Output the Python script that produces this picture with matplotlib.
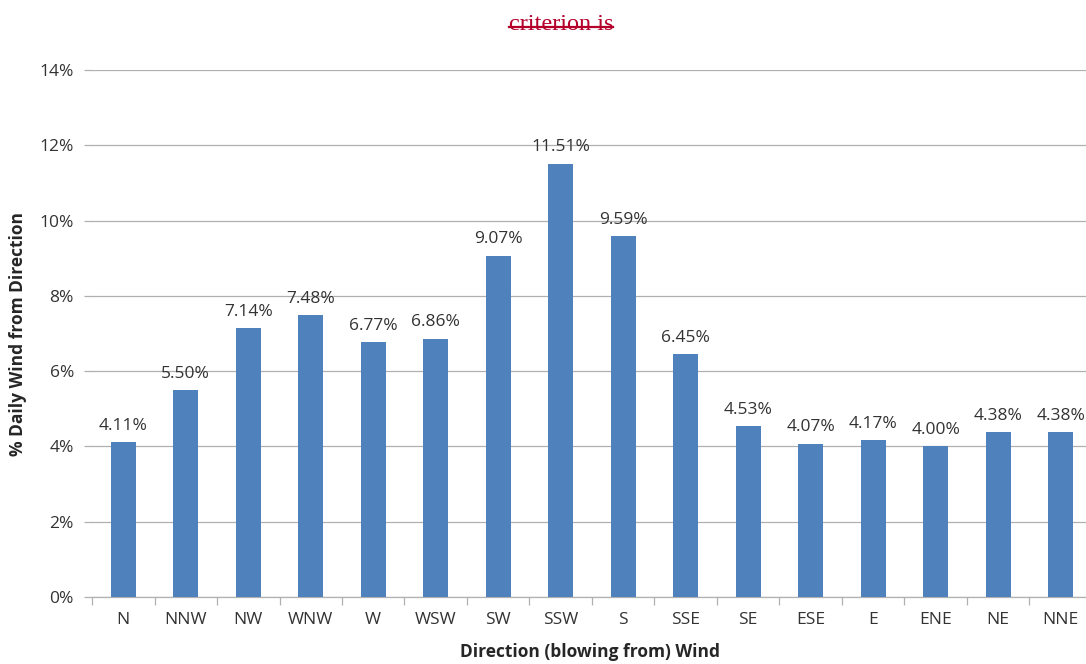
import matplotlib
matplotlib.use("Agg")
import matplotlib.pyplot as plt
from matplotlib.ticker import FuncFormatter
from matplotlib.lines import Line2D

directions = ["N", "NNW", "NW", "WNW", "W", "WSW", "SW", "SSW", "S", "SSE",
              "SE", "ESE", "E", "ENE", "NE", "NNE"]
percent = [4.11, 5.50, 7.14, 7.48, 6.77, 6.86, 9.07, 11.51, 9.59, 6.45,
           4.53, 4.07, 4.17, 4.00, 4.38, 4.38]
y_ticks = [0, 2, 4, 6, 8, 10, 12, 14]

W, H = 1086, 664
fig = plt.figure(figsize=(W / 100, H / 100), dpi=100)
plt.rcParams['font.family'] = ['Open Sans', 'DejaVu Sans']

left, right, bottom, top = 92, 1092, 597, 70
ax = fig.add_axes([left / W, (H - bottom) / H, (right - left) / W, (bottom - top) / H])

x = list(range(len(directions)))
ax.bar(x, percent, width=0.4, color="#4f81bd", zorder=3)
ax.set_xlim(-0.5, len(directions) - 0.5)
ax.set_ylim(0, 14)
ax.set_yticks(y_ticks)
ax.yaxis.set_major_formatter(FuncFormatter(lambda v, p: f"{v:.0f}%"))
ax.grid(axis="y", color="#b0b0b0", linewidth=0.9, zorder=0)
ax.tick_params(axis="y", length=6, color="#b0b0b0", width=0.9, labelsize=12.5,
               labelcolor="#333333", pad=7)
ax.set_xticks(x)
ax.set_xticklabels(directions)
ax.set_xticks([i - 0.5 for i in range(len(directions) + 1)], minor=True)
ax.tick_params(axis="x", which="major", length=0, labelsize=12.5, labelcolor="#333333", pad=11)
ax.tick_params(axis="x", which="minor", length=6, color="#b0b0b0", width=0.9)
for s in ["top", "right", "left"]:
    ax.spines[s].set_visible(False)
ax.spines["bottom"].set_color("#b0b0b0")
ax.spines["bottom"].set_linewidth(0.9)

for xi, v in zip(x, percent):
    ax.annotate(f"{v:.2f}%", (xi, v), xytext=(0, 6), textcoords="offset points",
                ha="center", va="bottom", fontsize=12.5, color="#333333")

ax.set_ylabel("% Daily Wind from Direction", fontsize=12.5, fontweight="bold",
              color="#262626")
ax.yaxis.set_label_coords(-(92 - 27) / (right - left), 0.5)
fig.text(590 / W, 1 - 652 / H, "Direction (blowing from) Wind", ha="center", va="center",
         fontsize=12.5, fontweight="bold", color="#262626")

t = fig.text(561 / W, 1 - 25 / H, "criterion is", ha="center", va="center",
             fontsize=17.5, color="#b5002c", family=["Liberation Serif", "DejaVu Serif"])
fig.canvas.draw()
bb = t.get_window_extent().transformed(fig.transFigure.inverted())
ymid = bb.y0 + (bb.y1 - bb.y0) * 0.42
fig.add_artist(Line2D([bb.x0, bb.x1], [ymid, ymid], transform=fig.transFigure,
                      color="#b5002c", linewidth=1.6))

fig.savefig("out.png", dpi=100)
